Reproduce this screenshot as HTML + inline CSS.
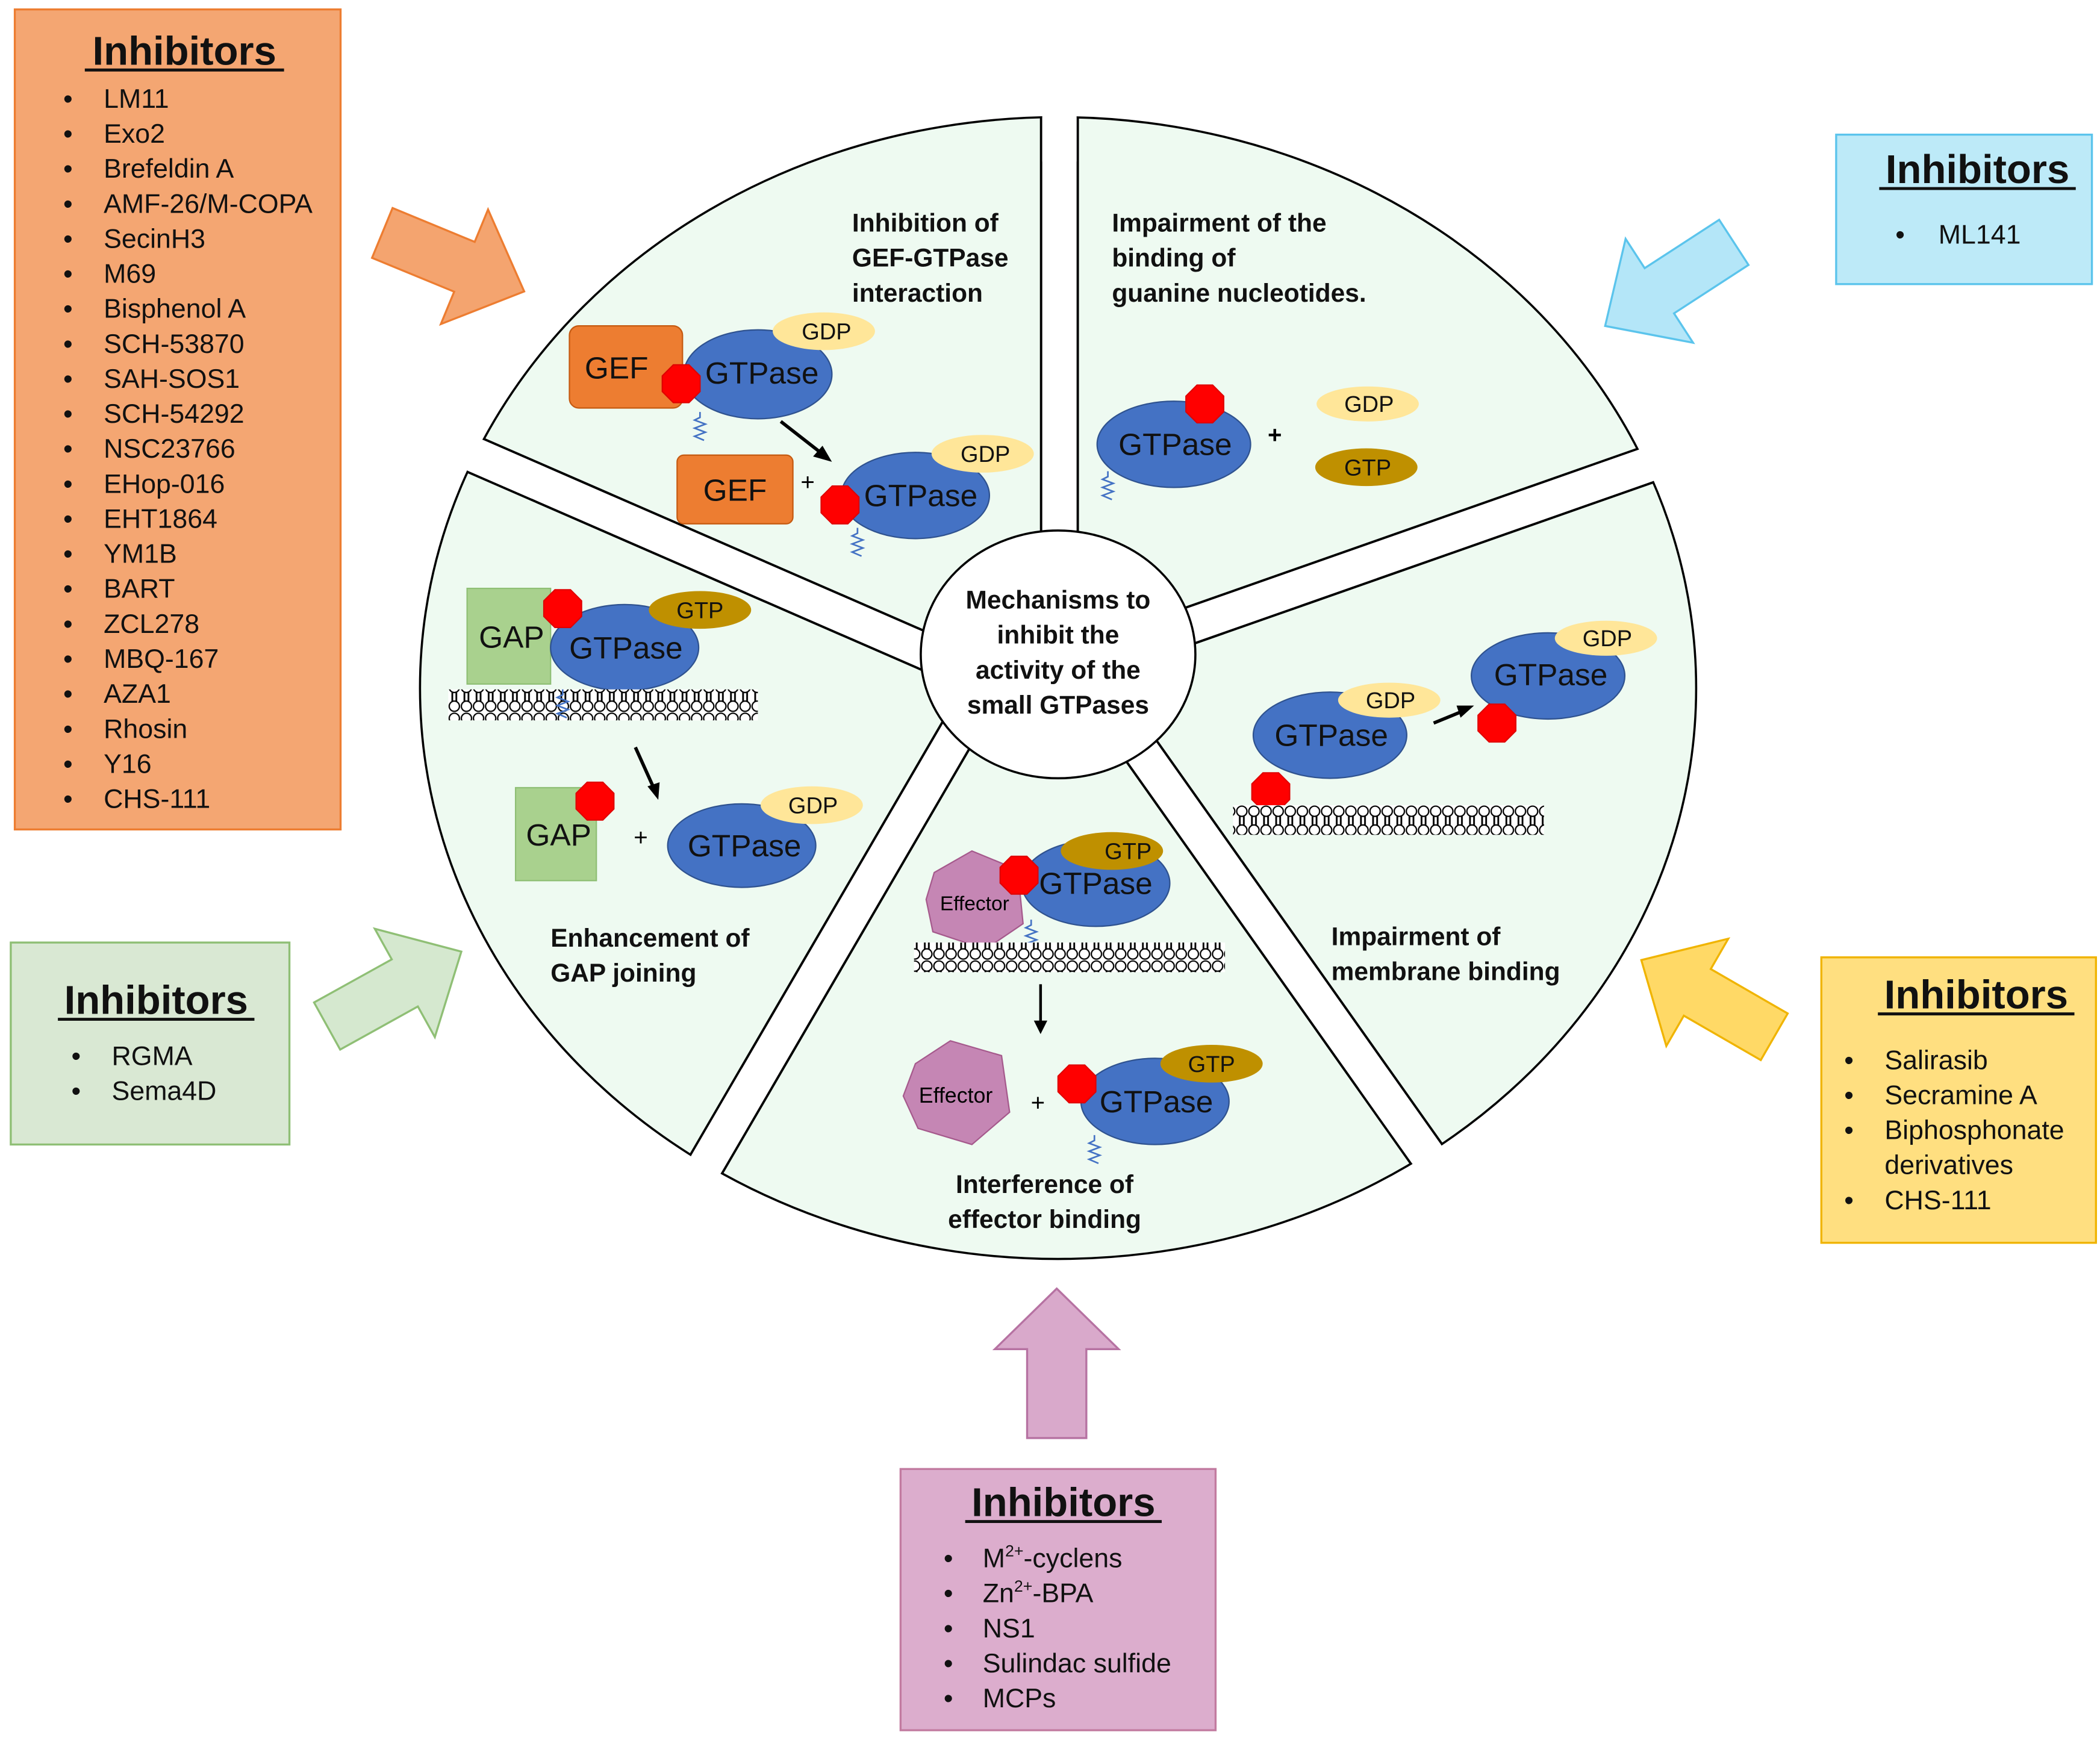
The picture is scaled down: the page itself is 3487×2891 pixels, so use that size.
<!DOCTYPE html>
<html><head><meta charset="utf-8"><style>
html,body{margin:0;padding:0;background:#fff}
svg{display:block}
text{font-family:"Liberation Sans",Arial,sans-serif}
.t{font-weight:bold;font-size:19px;fill:#111}
.h{font-weight:bold;font-size:30px;fill:#111;text-anchor:middle}
.li{font-size:20px;fill:#111}
.g{font-size:23px;fill:#111;text-anchor:middle}
.n{font-size:17px;fill:#111;text-anchor:middle}
</style></head><body>
<svg width="3487" height="2891" viewBox="0 0 1560 1293" preserveAspectRatio="none" xmlns="http://www.w3.org/2000/svg">
<defs>
<polygon id="oct" points="-5.8,-14 5.8,-14 14,-5.8 14,5.8 5.8,14 -5.8,14 -14,5.8 -14,-5.8" fill="#ff0000" stroke="#e00000" stroke-width="1"/>
<path id="sq" d="M0,0 L0,4 L-4,6 L4,9 L-4,12 L4,15 L-4,18 L3,21" fill="none" stroke="#4472c4" stroke-width="1.2"/>
<pattern id="mem" x="0" y="0" width="9" height="23" patternUnits="userSpaceOnUse">
<rect width="9" height="23" fill="#fff"/>
<line x1="3" y1="8" x2="3" y2="15" stroke="#000" stroke-width="1.3"/>
<line x1="6" y1="8" x2="6" y2="15" stroke="#000" stroke-width="1.3"/>
<circle cx="4.5" cy="4.5" r="3.8" fill="#fff" stroke="#000" stroke-width="1"/>
<circle cx="4.5" cy="18.5" r="3.8" fill="#fff" stroke="#000" stroke-width="1"/>
</pattern>
<clipPath id="ec"><ellipse cx="786" cy="511" rx="474" ry="424"/></clipPath>
</defs>

<!-- main disc -->
<ellipse cx="786" cy="511" rx="474" ry="424" fill="#eefaf1" stroke="#000" stroke-width="1.6"/>
<g clip-path="url(#ec)" stroke-linecap="butt">
<g stroke="#000" stroke-width="29">
<line x1="787" y1="490" x2="787" y2="40"/>
<line x1="786" y1="499" x2="1290" y2="322"/>
<line x1="800" y1="490" x2="1100" y2="914"/>
<line x1="744" y1="488" x2="490" y2="924"/>
<line x1="720" y1="498" x2="300" y2="315"/>
</g>
<g stroke="#fff" stroke-width="25.5">
<line x1="787" y1="490" x2="787" y2="40"/>
<line x1="786" y1="499" x2="1290" y2="322"/>
<line x1="800" y1="490" x2="1100" y2="914"/>
<line x1="744" y1="488" x2="490" y2="924"/>
<line x1="720" y1="498" x2="300" y2="315"/>
</g>
</g>
<g stroke="#fff" stroke-width="25.5">
<line x1="787" y1="120" x2="787" y2="60"/>
<line x1="1180" y1="360.6" x2="1290" y2="322"/>
<line x1="1020" y1="801" x2="1100" y2="914"/>
<line x1="562.2" y1="800" x2="490" y2="924"/>
<line x1="400" y1="358.6" x2="300" y2="315"/>
</g>
<ellipse cx="786" cy="486" rx="102" ry="92" fill="#fff" stroke="#000" stroke-width="1.6"/>
<g class="t" text-anchor="middle">
<text x="786" y="452">Mechanisms to</text>
<text x="786" y="478">inhibit the</text>
<text x="786" y="504">activity of the</text>
<text x="786" y="530">small GTPases</text>
</g>

<!-- top-left wedge -->
<g class="t"><text x="633" y="172">Inhibition of</text><text x="633" y="198">GEF-GTPase</text><text x="633" y="224">interaction</text></g>
<rect x="423" y="242" width="84" height="61" rx="7" fill="#ed7d31" stroke="#c55a11"/>
<text class="g" x="458" y="281">GEF</text>
<ellipse cx="563" cy="278" rx="55" ry="33" fill="#4472c4" stroke="#2f528f"/>
<text class="g" x="566" y="285">GTPase</text>
<ellipse cx="612" cy="246" rx="38" ry="14" fill="#ffe699"/>
<text class="n" x="614" y="252">GDP</text>
<use href="#oct" x="506" y="285"/>
<use href="#sq" x="520" y="306"/>
<line x1="580" y1="313" x2="612" y2="338" stroke="#000" stroke-width="2.5"/>
<polygon points="618,343 604,339 611,331" fill="#000"/>
<rect x="503" y="338" width="86" height="51" rx="5" fill="#ed7d31" stroke="#c55a11"/>
<text class="g" x="546" y="372">GEF</text>
<text x="600" y="364" font-size="18" text-anchor="middle">+</text>
<ellipse cx="680" cy="368" rx="55" ry="32" fill="#4472c4" stroke="#2f528f"/>
<text class="g" x="684" y="376">GTPase</text>
<ellipse cx="730" cy="337" rx="38" ry="14" fill="#ffe699"/>
<text class="n" x="732" y="343">GDP</text>
<use href="#oct" x="624" y="375"/>
<use href="#sq" x="637" y="392"/>

<!-- top-right wedge -->
<g class="t"><text x="826" y="172">Impairment of the</text><text x="826" y="198">binding of</text><text x="826" y="224">guanine nucleotides.</text></g>
<ellipse cx="872" cy="330" rx="57" ry="32" fill="#4472c4" stroke="#2f528f"/>
<text class="g" x="873" y="338">GTPase</text>
<use href="#oct" x="895" y="300"/>
<use href="#sq" x="823" y="350"/>
<text x="947" y="329" font-size="18" font-weight="bold" text-anchor="middle">+</text>
<ellipse cx="1016" cy="300" rx="38" ry="13" fill="#ffe699"/>
<text class="n" x="1017" y="306">GDP</text>
<ellipse cx="1015" cy="347" rx="38" ry="14" fill="#bf9000"/>
<text class="n" x="1016" y="353">GTP</text>

<!-- left wedge -->
<rect x="347" y="437" width="62" height="71" fill="#a9d18e" stroke="#8fbf75"/>
<text class="g" x="380" y="481">GAP</text>
<ellipse cx="464" cy="481" rx="55" ry="32" fill="#4472c4" stroke="#2f528f"/>
<text class="g" x="465" y="489">GTPase</text>
<ellipse cx="520" cy="453" rx="38" ry="14" fill="#bf9000"/>
<text class="n" x="520" y="459">GTP</text>
<use href="#oct" x="418" y="452"/>
<rect x="333" y="512" width="230" height="23" fill="url(#mem)"/>
<use href="#sq" x="418" y="512"/>
<line x1="472" y1="555" x2="486" y2="586" stroke="#000" stroke-width="2.5"/>
<polygon points="489,594 481,584 490,581" fill="#000"/>
<rect x="383" y="585" width="60" height="69" fill="#a9d18e" stroke="#8fbf75"/>
<text class="g" x="415" y="628">GAP</text>
<use href="#oct" x="442" y="595"/>
<text x="476" y="628" font-size="18" text-anchor="middle">+</text>
<ellipse cx="551" cy="628" rx="55" ry="31" fill="#4472c4" stroke="#2f528f"/>
<text class="g" x="553" y="636">GTPase</text>
<ellipse cx="603" cy="598" rx="38" ry="14" fill="#ffe699"/>
<text class="n" x="604" y="604">GDP</text>
<g class="t"><text x="409" y="703">Enhancement of</text><text x="409" y="729">GAP joining</text></g>

<!-- right wedge -->
<ellipse cx="988" cy="546" rx="57" ry="32" fill="#4472c4" stroke="#2f528f"/>
<text class="g" x="989" y="554">GTPase</text>
<ellipse cx="1032" cy="520" rx="38" ry="13" fill="#ffe699"/>
<text class="n" x="1033" y="526">GDP</text>
<line x1="944" y1="578" x2="944" y2="598" stroke="#4472c4" stroke-width="1.2"/>
<use href="#oct" x="944" y="588"/>
<rect x="916" y="598" width="231" height="22" fill="url(#mem)"/>
<line x1="1065" y1="537" x2="1087" y2="528" stroke="#000" stroke-width="2.5"/>
<polygon points="1095,524 1085,533 1082,524" fill="#000"/>
<ellipse cx="1150" cy="502" rx="57" ry="32" fill="#4472c4" stroke="#2f528f"/>
<text class="g" x="1152" y="509">GTPase</text>
<ellipse cx="1193" cy="474" rx="38" ry="13" fill="#ffe699"/>
<text class="n" x="1194" y="480">GDP</text>
<use href="#oct" x="1112" y="537"/>
<g class="t"><text x="989" y="702">Impairment of</text><text x="989" y="728">membrane binding</text></g>

<!-- bottom wedge -->
<polygon points="694,648 722,632 756,646 760,686 732,705 693,692 688,668" fill="#c586b4" stroke="#a5598c"/>
<text x="724" y="676" font-size="15" text-anchor="middle">Effector</text>
<ellipse cx="814" cy="656" rx="55" ry="32" fill="#4472c4" stroke="#2f528f"/>
<text class="g" x="814" y="664">GTPase</text>
<ellipse cx="826" cy="632" rx="38" ry="14" fill="#bf9000"/>
<text class="n" x="838" y="638">GTP</text>
<use href="#oct" x="757" y="650"/>
<use href="#sq" x="766" y="683"/>
<rect x="679" y="700" width="231" height="22" fill="url(#mem)"/>
<line x1="773" y1="731" x2="773" y2="760" stroke="#000" stroke-width="2"/>
<polygon points="768,758 778,758 773,768" fill="#000"/>
<polygon points="680,790 706,773 744,784 750,826 722,850 682,838 671,814" fill="#c586b4" stroke="#a5598c"/>
<text x="710" y="819" font-size="16" text-anchor="middle">Effector</text>
<text x="771" y="825" font-size="18" text-anchor="middle">+</text>
<ellipse cx="858" cy="818" rx="55" ry="32" fill="#4472c4" stroke="#2f528f"/>
<text class="g" x="859" y="826">GTPase</text>
<ellipse cx="900" cy="790" rx="38" ry="14" fill="#bf9000"/>
<text class="n" x="900" y="796">GTP</text>
<use href="#oct" x="800" y="805"/>
<use href="#sq" x="813" y="843"/>
<g class="t" text-anchor="middle"><text x="776" y="886">Interference of</text><text x="776" y="912">effector binding</text></g>

<!-- block arrows: template pointing +x -->
<g stroke-width="1.5" stroke-linejoin="miter">
<polygon transform="translate(284,173) rotate(22.4)" points="0,-20 66,-20 66,-46 114,0 66,46 66,20 0,20" fill="#f4a46f" stroke="#ed7d31"/>
<polygon transform="translate(1288,180) rotate(147)" points="0,-20 66,-20 66,-46 114,0 66,46 66,20 0,20" fill="#b4e6f8" stroke="#5bc4ec"/>
<polygon transform="translate(243,762) rotate(-29)" points="0,-20 66,-20 66,-46 114,0 66,46 66,20 0,20" fill="#d5e8cf" stroke="#8fbf75"/>
<polygon transform="translate(1318,770) rotate(-150)" points="0,-20 66,-20 66,-46 114,0 66,46 66,20 0,20" fill="#ffd966" stroke="#f0b400"/>
<polygon transform="translate(785,1068) rotate(-90)" points="0,-22 66,-22 66,-46 111,0 66,46 66,22 0,22" fill="#d9a9cb" stroke="#b672a2"/>
</g>

<!-- Orange box -->
<rect x="11" y="7" width="242" height="609" fill="#f4a672" stroke="#ed7d31" stroke-width="1.5"/>
<text class="h" x="137" y="48">Inhibitors</text>
<line x1="63" y1="52" x2="211" y2="52" stroke="#111" stroke-width="2.2"/>
<g class="li">
<text x="47" y="80">•</text><text x="77" y="80">LM11</text>
<text x="47" y="106">•</text><text x="77" y="106">Exo2</text>
<text x="47" y="132">•</text><text x="77" y="132">Brefeldin A</text>
<text x="47" y="158">•</text><text x="77" y="158">AMF-26/M-COPA</text>
<text x="47" y="184">•</text><text x="77" y="184">SecinH3</text>
<text x="47" y="210">•</text><text x="77" y="210">M69</text>
<text x="47" y="236">•</text><text x="77" y="236">Bisphenol A</text>
<text x="47" y="262">•</text><text x="77" y="262">SCH-53870</text>
<text x="47" y="288">•</text><text x="77" y="288">SAH-SOS1</text>
<text x="47" y="314">•</text><text x="77" y="314">SCH-54292</text>
<text x="47" y="340">•</text><text x="77" y="340">NSC23766</text>
<text x="47" y="366">•</text><text x="77" y="366">EHop-016</text>
<text x="47" y="392">•</text><text x="77" y="392">EHT1864</text>
<text x="47" y="418">•</text><text x="77" y="418">YM1B</text>
<text x="47" y="444">•</text><text x="77" y="444">BART</text>
<text x="47" y="470">•</text><text x="77" y="470">ZCL278</text>
<text x="47" y="496">•</text><text x="77" y="496">MBQ-167</text>
<text x="47" y="522">•</text><text x="77" y="522">AZA1</text>
<text x="47" y="548">•</text><text x="77" y="548">Rhosin</text>
<text x="47" y="574">•</text><text x="77" y="574">Y16</text>
<text x="47" y="600">•</text><text x="77" y="600">CHS-111</text>
</g>

<!-- Blue box -->
<rect x="1364" y="100" width="190" height="111" fill="#bdeaf8" stroke="#5bc4ec" stroke-width="1.5"/>
<text class="h" x="1469" y="136">Inhibitors</text>
<line x1="1396" y1="140" x2="1542" y2="140" stroke="#111" stroke-width="2.2"/>
<g class="li"><text x="1408" y="181">•</text><text x="1440" y="181">ML141</text></g>

<!-- Green box -->
<rect x="8" y="700" width="207" height="150" fill="#d9e8d3" stroke="#8fbf75" stroke-width="1.5"/>
<text class="h" x="116" y="753">Inhibitors</text>
<line x1="43" y1="757" x2="189" y2="757" stroke="#111" stroke-width="2.2"/>
<g class="li"><text x="53" y="791">•</text><text x="83" y="791">RGMA</text>
<text x="53" y="817">•</text><text x="83" y="817">Sema4D</text></g>

<!-- Yellow box -->
<rect x="1353" y="711" width="204" height="212" fill="#ffdf80" stroke="#f0b400" stroke-width="1.5"/>
<text class="h" x="1468" y="749">Inhibitors</text>
<line x1="1395" y1="753" x2="1541" y2="753" stroke="#111" stroke-width="2.2"/>
<g class="li">
<text x="1370" y="794">•</text><text x="1400" y="794">Salirasib</text>
<text x="1370" y="820">•</text><text x="1400" y="820">Secramine A</text>
<text x="1370" y="846">•</text><text x="1400" y="846">Biphosphonate</text>
<text x="1400" y="872">derivatives</text>
<text x="1370" y="898">•</text><text x="1400" y="898">CHS-111</text>
</g>

<!-- Pink box -->
<rect x="669" y="1091" width="234" height="194" fill="#dcadcd" stroke="#c27ba0" stroke-width="1.5"/>
<text class="h" x="790" y="1126">Inhibitors</text>
<line x1="717" y1="1130" x2="863" y2="1130" stroke="#111" stroke-width="2.2"/>
<g class="li">
<text x="701" y="1164">•</text><text x="730" y="1164">M<tspan font-size="12" dy="-8">2+</tspan><tspan dy="8">-cyclens</tspan></text>
<text x="701" y="1190">•</text><text x="730" y="1190">Zn<tspan font-size="12" dy="-8">2+</tspan><tspan dy="8">-BPA</tspan></text>
<text x="701" y="1216">•</text><text x="730" y="1216">NS1</text>
<text x="701" y="1242">•</text><text x="730" y="1242">Sulindac sulfide</text>
<text x="701" y="1268">•</text><text x="730" y="1268">MCPs</text>
</g>
</svg>
</body></html>
